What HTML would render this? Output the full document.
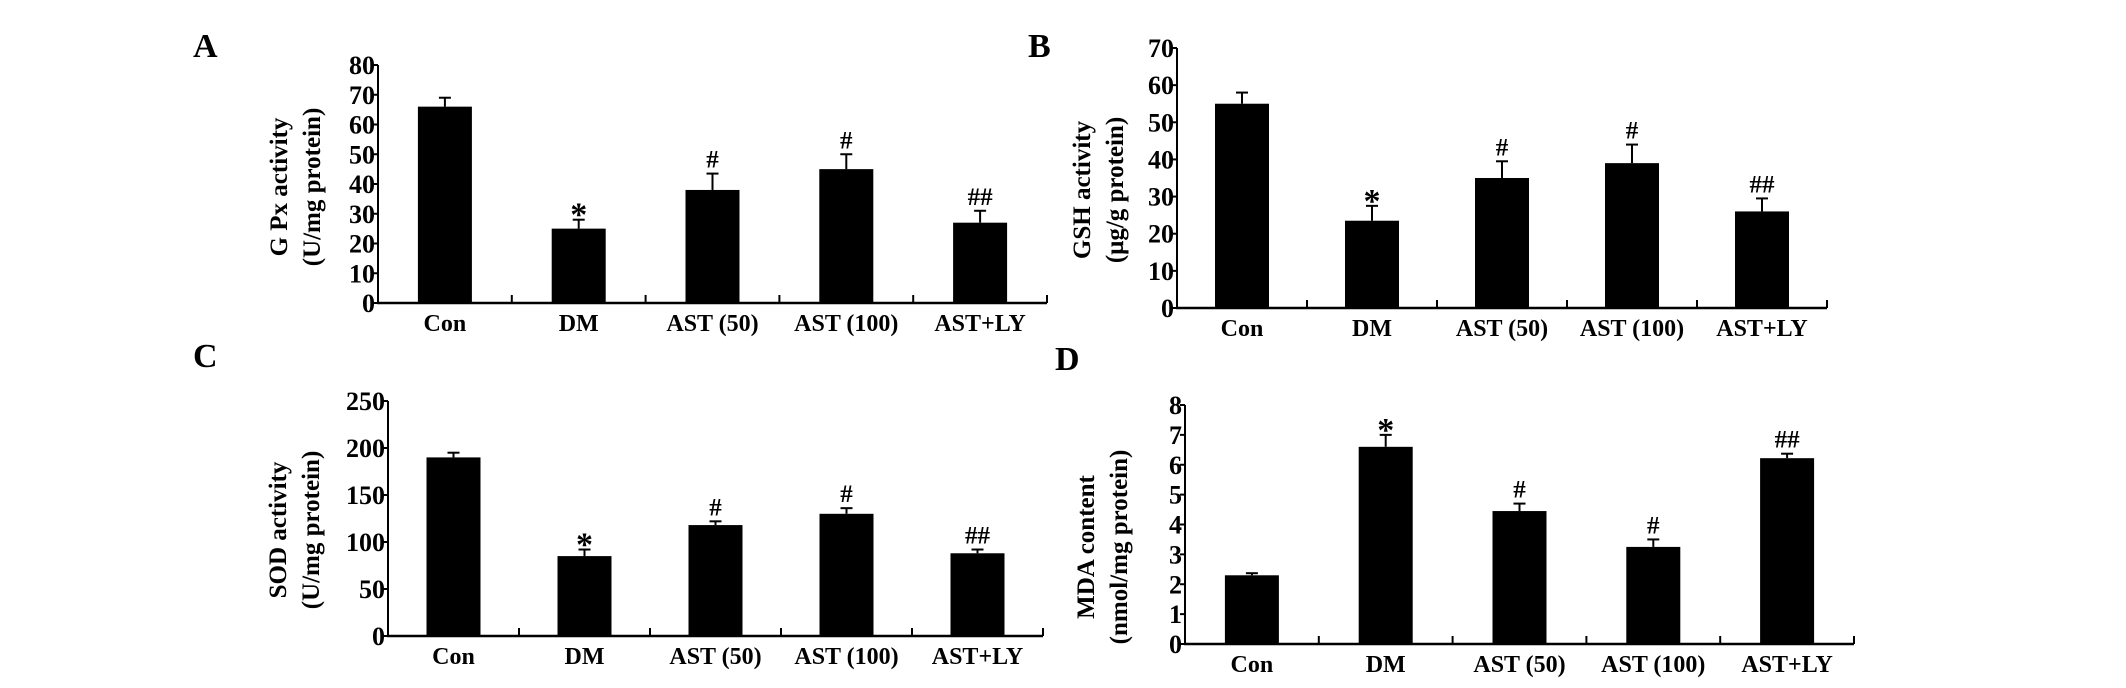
<!DOCTYPE html>
<html><head><meta charset="utf-8"><style>
html,body{margin:0;padding:0;background:#fff;}
svg{display:block;}
text{font-family:"Liberation Serif",serif;font-weight:bold;fill:#000;}
</style></head><body>
<svg id="fig" width="2126" height="688" viewBox="0 0 2126 688" xmlns="http://www.w3.org/2000/svg"></svg>
<script>
const categories = ["Con","DM","AST (50)","AST (100)","AST+LY"];
const gpxValues = [66,25,38,45,27];
const gpxErrors = [69,28,43.5,50,31];
const gpxMarks = ["","*","#","#","##"];
const gpxTicks = [0,10,20,30,40,50,60,70,80];
const gshValues = [55,23.5,35,39,26];
const gshErrors = [58,27.5,39.5,44,29.5];
const gshMarks = ["","*","#","#","##"];
const gshTicks = [0,10,20,30,40,50,60,70];
const sodValues = [190,85,118,130,88];
const sodErrors = [195,92,122,136,92];
const sodMarks = ["","*","#","#","##"];
const sodTicks = [0,50,100,150,200,250];
const mdaValues = [2.3,6.6,4.45,3.25,6.22];
const mdaErrors = [2.37,7.0,4.7,3.5,6.37];
const mdaMarks = ["","*","#","#","##"];
const mdaTicks = [0,1,2,3,4,5,6,7,8];

const NS="http://www.w3.org/2000/svg";
const svg=document.getElementById('fig');
function mk(tag,attrs,parent){const e=document.createElementNS(NS,tag);for(const k in attrs)e.setAttribute(k,attrs[k]);(parent||svg).appendChild(e);return e;}

function panel(p){
  const g=mk('g',{});
  
  
  const yMax=p.ticks[p.ticks.length-1];
  const ys=v=>p.y0-(v/yMax)*(p.y0-p.yTop);
  const step=(p.x1-p.x0)/categories.length;
  const xc=i=>p.x0+step*(i+0.5);
  const lab=mk('text',{x:p.lx,y:p.ly,'font-size':34},g);lab.textContent=p.id;
  
  
  const ya=mk('line',{x1:p.x0,y1:p.yTop,x2:p.x0,y2:p.y0,stroke:'#000','stroke-width':2},g);
  
  
  const xa=mk('line',{x1:p.x0-1,y1:p.y0,x2:p.x1,y2:p.y0,stroke:'#000','stroke-width':2.5},g);
  
  
  p.ticks.forEach(t=>{
    mk('line',{x1:p.x0-5,y1:ys(t),x2:p.x0,y2:ys(t),stroke:'#000','stroke-width':2},g);
    const tl=mk('text',{x:p.x0-3,y:ys(t)+9,'font-size':26,'text-anchor':'end'},g);tl.textContent=t;
    
    
  });
  for(let i=1;i<=categories.length;i++){
    mk('line',{x1:p.x0+step*i,y1:p.y0,x2:p.x0+step*i,y2:p.y0-8,stroke:'#000','stroke-width':2},g);
  }
  categories.forEach((c,i)=>{
    const cl=mk('text',{x:xc(i),y:p.y0+28,'font-size':24,'text-anchor':'middle'},g);cl.textContent=c;
    
    
    const v=p.values[i],e=p.errors[i],bw=54;
    const b=mk('rect',{x:xc(i)-bw/2,y:ys(v),width:bw,height:p.y0-ys(v),fill:'#000'},g);
    
    
    mk('line',{x1:xc(i),y1:ys(v),x2:xc(i),y2:ys(e),stroke:'#000','stroke-width':2},g);
    mk('line',{x1:xc(i)-6,y1:ys(e),x2:xc(i)+6,y2:ys(e),stroke:'#000','stroke-width':2},g);
    if(p.marks[i]){
      const isStar=p.marks[i]==='*';
      const m=mk('text',{x:xc(i),y:ys(e)-(isStar?-6:6),'font-size':isStar?34:25,'text-anchor':'middle'},g);m.textContent=p.marks[i];
      
      
    }
  });
  const t=mk('text',{transform:`translate(${p.tx},${p.tcy}) rotate(-90)`,'font-size':25,'text-anchor':'middle'},g);
  mk('tspan',{x:0,y:0},t).textContent=p.t1;
  mk('tspan',{x:0,y:33},t).textContent=p.t2;
  
  
}
panel({id:'A',lx:193,ly:57,x0:378,x1:1047,yTop:65,y0:303,ticks:gpxTicks,values:gpxValues,errors:gpxErrors,marks:gpxMarks,tx:287,tcy:187,t1:'G Px  activity',t2:'(U/mg protein)'});
panel({id:'B',lx:1028,ly:57,x0:1177,x1:1827,yTop:48,y0:308,ticks:gshTicks,values:gshValues,errors:gshErrors,marks:gshMarks,tx:1090,tcy:190,t1:'GSH activity',t2:'(μg/g protein)'});
panel({id:'C',lx:193,ly:367,x0:388,x1:1043,yTop:401,y0:636,ticks:sodTicks,values:sodValues,errors:sodErrors,marks:sodMarks,tx:286,tcy:530,t1:'SOD activity',t2:'(U/mg protein)'});
panel({id:'D',lx:1055,ly:370,x0:1185,x1:1854,yTop:405,y0:644,ticks:mdaTicks,values:mdaValues,errors:mdaErrors,marks:mdaMarks,tx:1094,tcy:547,t1:'MDA content',t2:'(nmol/mg protein)'});
</script>
</body></html>
